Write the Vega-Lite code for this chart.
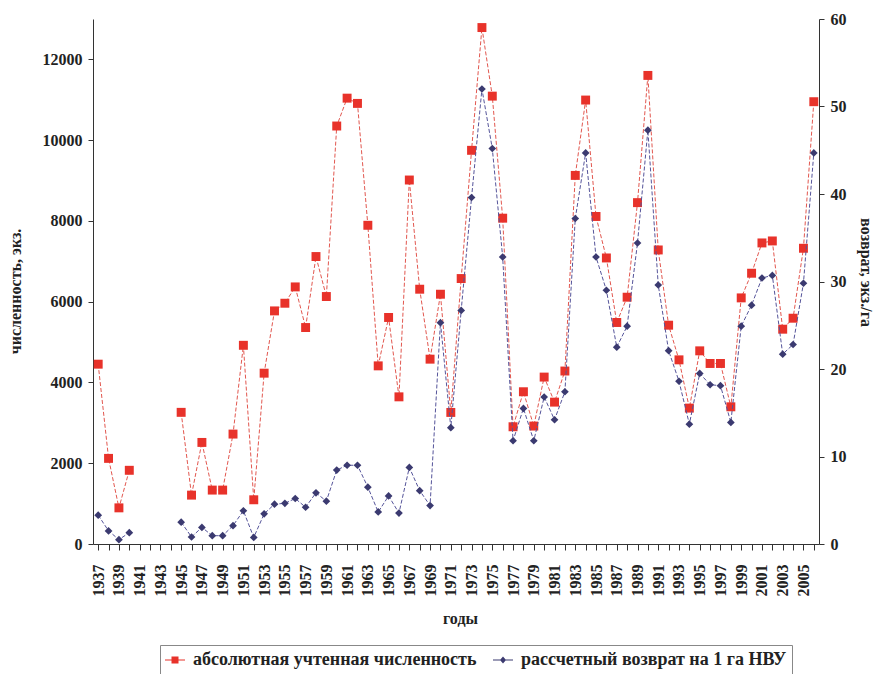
{
  "$schema": "https://vega.github.io/schema/vega-lite/v6.json",
  "width": 726,
  "height": 525,
  "autosize": {"type": "none"},
  "padding": {"left": 93, "top": 19, "right": 59, "bottom": 130},
  "background": "white",
  "config": {
    "view": {"stroke": null},
    "font": "Liberation Serif, DejaVu Serif, serif",
    "axis": {
      "labelFont": "Liberation Serif, DejaVu Serif, serif",
      "labelFontWeight": "bold",
      "labelFontSize": 16,
      "labelColor": "#222222",
      "titleFont": "Liberation Serif, DejaVu Serif, serif",
      "titleFontWeight": "bold",
      "titleFontSize": 16,
      "titleColor": "#222222",
      "domainColor": "#333333",
      "tickColor": "#333333",
      "grid": false
    }
  },
  "data": {
    "values": [
      {"year": 1937, "a": 4453, "v": 3.3},
      {"year": 1938, "a": 2120, "v": 1.5},
      {"year": 1939, "a": 895, "v": 0.5},
      {"year": 1940, "a": 1825, "v": 1.3},
      {"year": 1941, "a": null, "v": null},
      {"year": 1942, "a": null, "v": null},
      {"year": 1943, "a": null, "v": null},
      {"year": 1944, "a": null, "v": null},
      {"year": 1945, "a": 3260, "v": 2.5},
      {"year": 1946, "a": 1210, "v": 0.8},
      {"year": 1947, "a": 2515, "v": 1.9},
      {"year": 1948, "a": 1335, "v": 0.95},
      {"year": 1949, "a": 1335, "v": 0.95},
      {"year": 1950, "a": 2722, "v": 2.1},
      {"year": 1951, "a": 4920, "v": 3.8},
      {"year": 1952, "a": 1095, "v": 0.75},
      {"year": 1953, "a": 4230, "v": 3.45},
      {"year": 1954, "a": 5772, "v": 4.55},
      {"year": 1955, "a": 5962, "v": 4.65},
      {"year": 1956, "a": 6366, "v": 5.2},
      {"year": 1957, "a": 5360, "v": 4.2},
      {"year": 1958, "a": 7118, "v": 5.85},
      {"year": 1959, "a": 6128, "v": 4.9},
      {"year": 1960, "a": 10350, "v": 8.45},
      {"year": 1961, "a": 11040, "v": 9.0},
      {"year": 1962, "a": 10910, "v": 9.0},
      {"year": 1963, "a": 7892, "v": 6.5},
      {"year": 1964, "a": 4411, "v": 3.66},
      {"year": 1965, "a": 5609, "v": 5.49},
      {"year": 1966, "a": 3644, "v": 3.54},
      {"year": 1967, "a": 9013, "v": 8.75},
      {"year": 1968, "a": 6309, "v": 6.1},
      {"year": 1969, "a": 4577, "v": 4.39},
      {"year": 1970, "a": 6185, "v": 25.3},
      {"year": 1971, "a": 3258, "v": 13.3},
      {"year": 1972, "a": 6573, "v": 26.7},
      {"year": 1973, "a": 9748, "v": 39.6},
      {"year": 1974, "a": 12788, "v": 52.0},
      {"year": 1975, "a": 11090, "v": 45.2},
      {"year": 1976, "a": 8068, "v": 32.8},
      {"year": 1977, "a": 2903, "v": 11.8},
      {"year": 1978, "a": 3770, "v": 15.5},
      {"year": 1979, "a": 2920, "v": 11.8},
      {"year": 1980, "a": 4133, "v": 16.8},
      {"year": 1981, "a": 3513, "v": 14.2},
      {"year": 1982, "a": 4283, "v": 17.4},
      {"year": 1983, "a": 9127, "v": 37.2},
      {"year": 1984, "a": 10993, "v": 44.7},
      {"year": 1985, "a": 8110, "v": 32.8},
      {"year": 1986, "a": 7083, "v": 29.0},
      {"year": 1987, "a": 5485, "v": 22.5},
      {"year": 1988, "a": 6111, "v": 24.9},
      {"year": 1989, "a": 8453, "v": 34.4},
      {"year": 1990, "a": 11603, "v": 47.3},
      {"year": 1991, "a": 7281, "v": 29.6},
      {"year": 1992, "a": 5418, "v": 22.1},
      {"year": 1993, "a": 4560, "v": 18.6},
      {"year": 1994, "a": 3365, "v": 13.7},
      {"year": 1995, "a": 4783, "v": 19.5},
      {"year": 1996, "a": 4470, "v": 18.2},
      {"year": 1997, "a": 4470, "v": 18.1},
      {"year": 1998, "a": 3397, "v": 13.9},
      {"year": 1999, "a": 6094, "v": 24.9},
      {"year": 2000, "a": 6705, "v": 27.3},
      {"year": 2001, "a": 7455, "v": 30.4},
      {"year": 2002, "a": 7504, "v": 30.7},
      {"year": 2003, "a": 5319, "v": 21.7},
      {"year": 2004, "a": 5591, "v": 22.8},
      {"year": 2005, "a": 7323, "v": 29.8},
      {"year": 2006, "a": 10952, "v": 44.7}
    ]
  },
  "encoding": {
    "x": {
      "field": "year",
      "type": "quantitative",
      "scale": {"domain": [1936.5, 2006.5], "nice": false, "zero": false},
      "axis": {
        "values": [1937,1938,1939,1940,1941,1942,1943,1944,1945,1946,1947,1948,1949,1950,1951,1952,1953,1954,1955,1956,1957,1958,1959,1960,1961,1962,1963,1964,1965,1966,1967,1968,1969,1970,1971,1972,1973,1974,1975,1976,1977,1978,1979,1980,1981,1982,1983,1984,1985,1986,1987,1988,1989,1990,1991,1992,1993,1994,1995,1996,1997,1998,1999,2000,2001,2002,2003,2004,2005,2006],
        "labelExpr": "datum.value % 2 == 1 ? '' + datum.value : ''",
        "labelAngle": 270,
        "labelAlign": "right",
        "labelBaseline": "middle",
        "labelPadding": 14,
        "labelOverlap": false,
        "labelFlush": false,
        "tickSize": 6,
        "title": "годы",
        "titleX": 367,
        "titleY": 66
      }
    }
  },
  "layer": [
    {
      "layer": [
        {
          "mark": {"type": "line", "color": "#e2574f", "strokeWidth": 1, "strokeDash": [4, 2], "invalid": "break-paths-filter-domains"},
          "encoding": {
            "y": {
              "field": "a",
              "type": "quantitative",
              "scale": {"domain": [0, 13000], "nice": false},
              "axis": {
                "orient": "left",
                "values": [0, 2000, 4000, 6000, 8000, 10000, 12000],
                "format": "d",
                "tickSize": 5,
                "labelPadding": 6,
                "title": "численность, экз.",
                "titleX": -70,
                "titleY": 272
              }
            }
          }
        },
        {
          "mark": {"type": "point", "shape": "square", "filled": true, "size": 80, "opacity": 1},
          "encoding": {
            "y": {"field": "a", "type": "quantitative"},
            "color": {
              "datum": "абсолютная учтенная численность",
              "scale": {
                "domain": ["абсолютная учтенная численность", "рассчетный возврат на 1 га НВУ"],
                "range": ["#e8322a", "#3b3a70"]
              },
              "legend": {
                "orient": "none",
                "legendX": 67,
                "legendY": 626,
                "direction": "horizontal",
                "title": null,
                "labelFont": "Liberation Serif, DejaVu Serif, serif",
                "labelFontWeight": "bold",
                "labelFontSize": 18,
                "labelColor": "#222222",
                "symbolSize": 400,
                "symbolStrokeWidth": 0,
                "symbolOpacity": 1,
                "strokeColor": "#888888",
                "padding": 5,
                "columnPadding": 16,
                "labelOffset": 8,
                "labelLimit": 400,
                "encode": {
                  "symbols": {
                    "update": {
                      "shape": {"signal": "datum.value == 'абсолютная учтенная численность' ? 'M-1,-0.06H1V0.06H-1Z M-0.35,-0.35H0.35V0.35H-0.35Z' : 'M-1,-0.05H1V0.05H-1Z M0,-0.35L0.3,0L0,0.35L-0.3,0Z'"}
                    }
                  }
                }
              }
            }
          }
        }
      ]
    },
    {
      "layer": [
        {
          "mark": {"type": "line", "color": "#55549a", "strokeWidth": 1, "strokeDash": [4, 2], "invalid": "break-paths-filter-domains"},
          "encoding": {
            "y": {
              "field": "v",
              "type": "quantitative",
              "scale": {"domain": [0, 60], "nice": false},
              "axis": {
                "orient": "right",
                "values": [0, 10, 20, 30, 40, 50, 60],
                "format": "d",
                "tickSize": 5,
                "labelPadding": 6,
                "title": "возврат, экз./га",
                "titleAngle": 90,
                "titleX": 38,
                "titleY": 253
              }
            }
          }
        },
        {
          "mark": {"type": "point", "shape": "diamond", "filled": true, "size": 60, "opacity": 1},
          "encoding": {
            "y": {"field": "v", "type": "quantitative"},
            "color": {"datum": "рассчетный возврат на 1 га НВУ"}
          }
        }
      ]
    }
  ],
  "resolve": {"scale": {"y": "independent"}}
}
